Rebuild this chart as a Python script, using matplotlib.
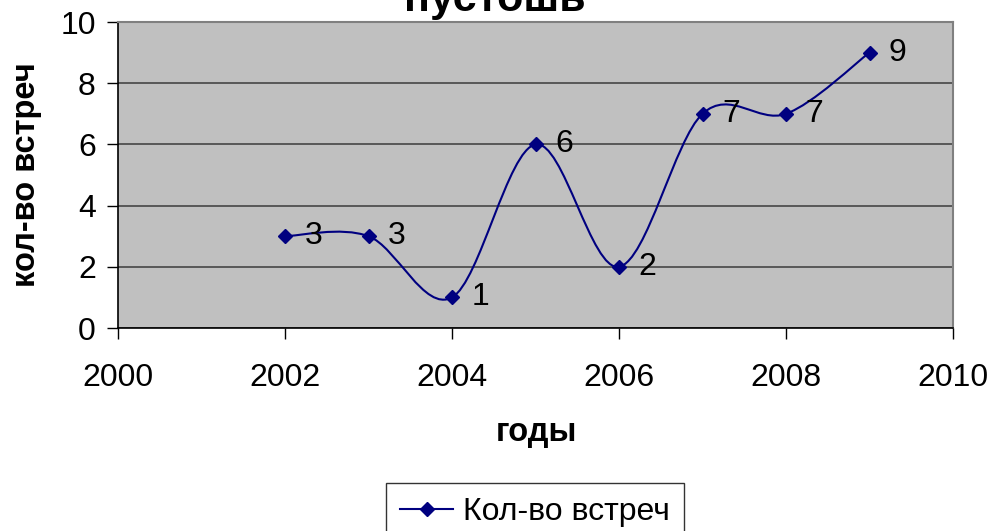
import matplotlib
matplotlib.use("Agg")
import matplotlib.pyplot as plt
from matplotlib.path import Path
from matplotlib.patches import PathPatch
from matplotlib.lines import Line2D

plt.rcParams['font.family'] = ['Liberation Sans', 'DejaVu Sans']

years = [2002, 2003, 2004, 2005, 2006, 2007, 2008, 2009]
meetings = [3, 3, 1, 6, 2, 7, 7, 9]
series_name = "Кол-во встреч"
title_text = "пустошь"
xlabel_text = "годы"
ylabel_text = "кол-во встреч"

NAVY = "#000080"


def smoothPath(xs, ys):
    # excel-like smoothed line: cubic bezier segments with catmull-rom handles
    pts = list(zip(xs, ys))
    verts = [pts[0]]
    codes = [Path.MOVETO]
    n = len(pts)
    for i in range(n - 1):
        p0 = pts[i - 1] if i > 0 else pts[i]
        p1 = pts[i]
        p2 = pts[i + 1]
        p3 = pts[i + 2] if i + 2 < n else pts[i + 1]
        c1 = (p1[0] + (p2[0] - p0[0]) / 6, p1[1] + (p2[1] - p0[1]) / 6)
        c2 = (p2[0] - (p3[0] - p1[0]) / 6, p2[1] - (p3[1] - p1[1]) / 6)
        verts += [c1, c2, p2]
        codes += [Path.CURVE4] * 3
    return Path(verts, codes)


W, H = 992, 531
fig = plt.figure(figsize=(W / 100, H / 100), dpi=100)
ax = fig.add_axes([118 / W, 1 - 328 / H, (953 - 118) / W, (328 - 22) / H])
ax.set_facecolor("#C0C0C0")

ax.add_patch(PathPatch(smoothPath(years, meetings), facecolor="none",
                       edgecolor=NAVY, lw=1.5, zorder=3))
ax.plot(years, meetings, ls="none", marker="D", ms=7, color=NAVY, zorder=4)
for x, y in zip(years, meetings):
    ax.annotate(str(y), (x, y), xytext=(14, 0), textcoords="offset points",
                va="center", ha="left", fontsize=23, color="black", zorder=5)

ax.set_xlim(2000, 2010)
ax.set_ylim(0, 10)
ax.set_xticks(range(2000, 2011, 2))
ax.set_yticks(range(0, 11, 2))
ax.yaxis.grid(True, color="#505050", lw=1.3)
ax.set_axisbelow(True)
ax.tick_params(axis="both", direction="out", length=8, width=1, labelsize=23, colors="black")
ax.tick_params(axis="x", pad=17)
ax.tick_params(axis="y", pad=8)

for side in ["top", "right"]:
    ax.spines[side].set_color("#808080")
    ax.spines[side].set_linewidth(1.5)
for side in ["left", "bottom"]:
    ax.spines[side].set_color("black")
    ax.spines[side].set_linewidth(1.2)

fig.text(27 / W, 1 - 175 / H, ylabel_text, rotation=90, ha="center", va="center",
         fontsize=23.5, fontweight="bold")
fig.text(536 / W, 1 - 433 / H, xlabel_text, ha="center", va="center",
         fontsize=23.5, fontweight="bold")
fig.text(495 / W, 1 - 11 / H, title_text, ha="center", va="baseline",
         fontsize=31, fontweight="bold")

# legend box runs off the bottom edge, as in the original
handle = Line2D([], [], color=NAVY, marker="D", ms=7, lw=1.5)
leg = fig.legend([handle], [series_name], loc="upper center",
                 bbox_to_anchor=(535 / W, 1 - 483 / H), fontsize=23,
                 frameon=True, fancybox=False, edgecolor="black",
                 borderpad=0.45, borderaxespad=0.0, handlelength=1.65,
                 handletextpad=0.3)
leg.get_frame().set_linewidth(1.0)

fig.savefig("out.png", dpi=100)
